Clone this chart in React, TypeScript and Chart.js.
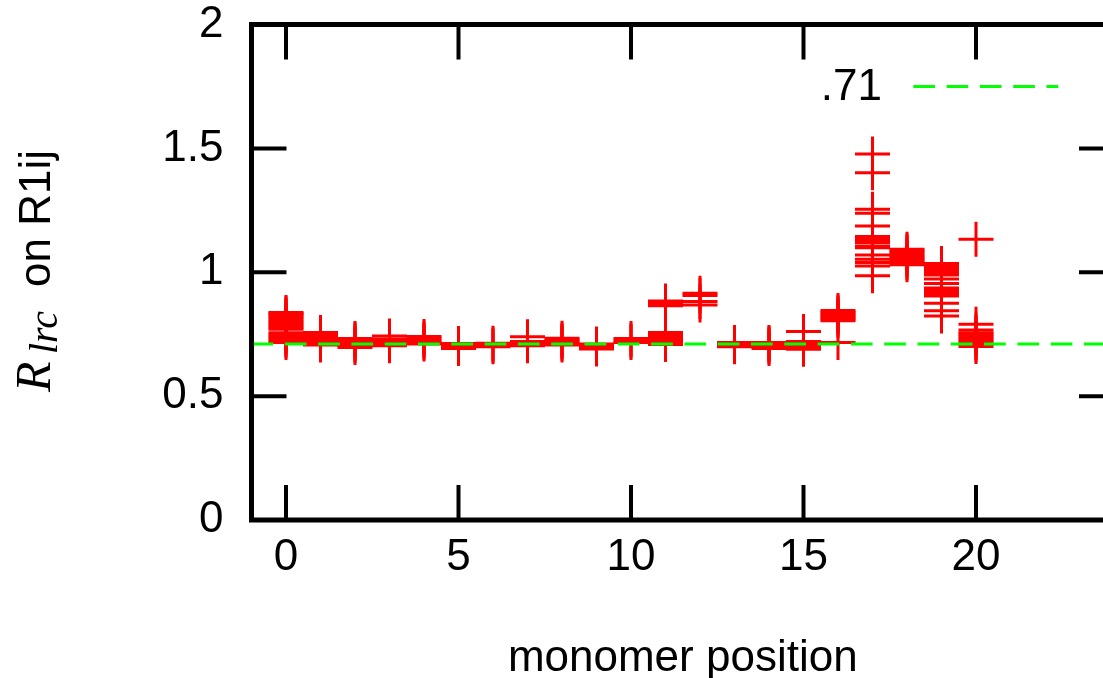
import React, { useEffect, useRef } from "react";
import { Chart, registerables } from "chart.js";

Chart.register(...registerables);

// ---- data ----
const monomerPositions = [0, 1, 2, 3, 4, 5, 6, 7, 8, 9, 10, 11, 12, 13, 14, 15, 16, 17, 18, 19, 20];
const ratioValues: number[][] = [
  [0.716, 0.724, 0.732, 0.74, 0.748, 0.756, 0.77, 0.778, 0.786, 0.794, 0.802, 0.81, 0.818, 0.826, 0.832, 0.838],
  [0.706, 0.714, 0.722, 0.73, 0.738, 0.746, 0.757],
  [0.696, 0.704, 0.712, 0.72, 0.728, 0.733],
  [0.703, 0.71, 0.717, 0.724, 0.731, 0.743],
  [0.71, 0.718, 0.726, 0.734, 0.741],
  [0.692, 0.699, 0.706, 0.712],
  [0.699, 0.706, 0.713],
  [0.703, 0.71, 0.716, 0.72, 0.74],
  [0.706, 0.713, 0.72, 0.727, 0.734],
  [0.69, 0.697, 0.704, 0.71],
  [0.716, 0.724, 0.733],
  [0.708, 0.716, 0.724, 0.732, 0.74, 0.748, 0.757, 0.865, 0.872, 0.878, 0.884],
  [0.868, 0.882, 0.906, 0.915],
  [0.699, 0.706, 0.712, 0.716],
  [0.692, 0.699, 0.706, 0.712, 0.716],
  [0.689, 0.696, 0.703, 0.71, 0.716, 0.72, 0.761],
  [0.716, 0.804, 0.811, 0.818, 0.825, 0.832, 0.839, 0.846],
  [0.986, 1.025, 1.039, 1.052, 1.07, 1.099, 1.106, 1.12, 1.128, 1.136, 1.144, 1.187, 1.238, 1.254, 1.402, 1.477],
  [1.03, 1.038, 1.046, 1.054, 1.062, 1.07, 1.078, 1.086, 1.093],
  [0.823, 0.845, 0.875, 0.904, 0.912, 0.92, 0.928, 0.936, 0.955, 0.973, 0.989, 0.997, 1.005, 1.013, 1.021, 1.028, 1.035],
  [0.7, 0.708, 0.716, 0.724, 0.732, 0.74, 0.748, 0.756, 0.767, 0.79, 1.133],
];
const referenceValue = 0.71;
const referenceLabel = ".71";
const xMin = -1;
const xMax = 24;
const yMin = 0;
const yMax = 2;
const xTickValues = [0, 5, 10, 15, 20];
const yTickValues = [0, 0.5, 1, 1.5, 2];
const xTitle = "monomer position";

const SANS = '"Liberation Sans", Arial, Helvetica, sans-serif';
const SERIF = '"Liberation Serif", "Times New Roman", serif';

const CANVAS_W = 1140;
const CANVAS_H = 678;

const framePlugin = {
  id: "gnuFrame",
  afterDatasetsDraw(chart: any) {
    const { ctx, chartArea: a, scales } = chart;
    const x = scales.x;
    const y = scales.y;
    ctx.save();
    ctx.strokeStyle = "#000";
    ctx.lineCap = "butt";
    const seg = (x1: number, y1: number, x2: number, y2: number) => {
      ctx.beginPath();
      ctx.moveTo(x1, y1);
      ctx.lineTo(x2, y2);
      ctx.stroke();
    };
    const L = 35;
    ctx.lineWidth = 4;
    xTickValues.forEach((v) => {
      const px = x.getPixelForValue(v);
      seg(px, a.bottom, px, a.bottom - L);
      seg(px, a.top, px, a.top + L);
    });
    yTickValues.forEach((v) => {
      const py = y.getPixelForValue(v);
      seg(a.left, py, a.left + L, py);
      seg(a.right, py, a.right - L, py);
    });
    ctx.lineWidth = 5;
    ctx.lineJoin = "miter";
    ctx.strokeRect(a.left, a.top, a.right - a.left, a.bottom - a.top);

    // key
    ctx.fillStyle = "#000";
    ctx.font = `44px ${SANS}`;
    ctx.textAlign = "right";
    ctx.textBaseline = "middle";
    ctx.fillText(referenceLabel, 882, 88);
    ctx.strokeStyle = "#00ff00";
    ctx.lineWidth = 3;
    ctx.setLineDash([21.7, 11.6]);
    seg(913.3, 86.5, 1058.3, 86.5);
    ctx.setLineDash([]);

    // y title (mixed fonts)
    ctx.translate(50, 392);
    ctx.rotate(-Math.PI / 2);
    ctx.textBaseline = "alphabetic";
    ctx.fillStyle = "#000";
    ctx.textAlign = "left";
    ctx.font = `italic 50px ${SERIF}`;
    ctx.fillText("R", 0, 0);
    ctx.font = `italic 40px ${SERIF}`;
    ctx.fillText("lrc", 38, 7);
    ctx.font = `44px ${SANS}`;
    ctx.textAlign = "right";
    ctx.fillText("on R1ij", 242, 0);
    ctx.restore();
  },
};

export default function App() {
  const canvasRef = useRef<HTMLCanvasElement | null>(null);

  useEffect(() => {
    const canvas = canvasRef.current;
    if (!canvas) return;
    const points: { x: number; y: number }[] = [];
    monomerPositions.forEach((p, i) => {
      ratioValues[i].forEach((v) => points.push({ x: p, y: v }));
    });

    const chart = new Chart(canvas, {
      type: "scatter",
      data: {
        datasets: [
          {
            type: "line",
            label: referenceLabel,
            data: [
              { x: xMin, y: referenceValue },
              { x: xMax, y: referenceValue },
            ],
            borderColor: "#00ff00",
            borderWidth: 3,
            borderDash: [21.7, 11.6],
            pointRadius: 0,
            fill: false,
            order: 0,
          } as any,
          {
            type: "scatter",
            label: "R1ij",
            data: points,
            pointStyle: "cross",
            pointRadius: 17.5,
            pointHoverRadius: 17.5,
            borderColor: "#ff0000",
            backgroundColor: "#ff0000",
            pointBorderWidth: 3,
            borderWidth: 3,
            order: 1,
          } as any,
        ],
      },
      options: {
        responsive: false,
        animation: false,
        events: [],
        layout: { padding: { left: 0, top: 24.5, right: CANVAS_W - 1114, bottom: 0 } },
        plugins: {
          legend: { display: false },
          tooltip: { enabled: false },
        },
        scales: {
          x: {
            type: "linear",
            min: xMin,
            max: xMax,
            afterBuildTicks: (s: any) => {
              s.ticks = xTickValues.map((v) => ({ value: v }));
            },
            afterFit: (s: any) => {
              s.height = 158;
              s.paddingLeft = 0;
              s.paddingRight = 0;
            },
            grid: { display: false, drawTicks: false },
            border: { display: false },
            ticks: {
              color: "#000",
              font: { family: SANS, size: 44, lineHeight: 1 },
              padding: 16,
              maxRotation: 0,
              autoSkip: false,
              callback: (v: any) => String(v),
            },
            title: {
              display: true,
              text: xTitle,
              color: "#000",
              font: { family: SANS, size: 44, lineHeight: 1 },
              padding: { top: 0, bottom: -2.5 },
            },
          },
          y: {
            type: "linear",
            min: yMin,
            max: yMax,
            afterBuildTicks: (s: any) => {
              s.ticks = yTickValues.map((v) => ({ value: v }));
            },
            afterFit: (s: any) => {
              s.width = 251.5;
              s.paddingTop = 0;
              s.paddingBottom = 0;
            },
            grid: { display: false, drawTicks: false },
            border: { display: false },
            ticks: {
              color: "#000",
              font: { family: SANS, size: 44, lineHeight: 1 },
              padding: 28,
              callback: (v: any) => String(v),
            },
          },
        },
      } as any,
      plugins: [framePlugin],
    });
    return () => chart.destroy();
  }, []);

  return (
    <div
      style={{
        position: "absolute",
        left: 0,
        top: 0,
        width: 1103,
        height: 678,
        overflow: "hidden",
        background: "#fff",
      }}
    >
      <canvas ref={canvasRef} width={CANVAS_W} height={CANVAS_H} style={{ display: "block" }} />
    </div>
  );
}
